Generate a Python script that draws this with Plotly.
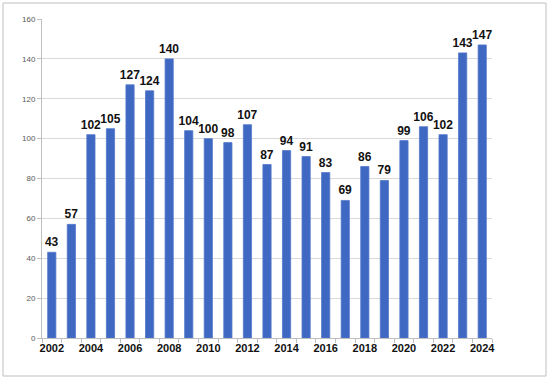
import plotly.graph_objects as go

years = [str(y) for y in range(2002, 2025)]
values = [43, 57, 102, 105, 127, 124, 140, 104, 100, 98, 107, 87, 94, 91, 83, 69, 86, 79, 99, 106, 102, 143, 147]
tick_text = [y if int(y) % 2 == 0 else "" for y in years]
y_ticks = [0, 20, 40, 60, 80, 100, 120, 140, 160]

L, R, T, B = 42, 58, 19, 44
W, H = 550, 382
pw, ph = W - L - R, H - T - B

fig = go.Figure()
fig.add_trace(go.Bar(
    x=years, y=values, width=0.42,
    marker=dict(color="#3F68C3", line=dict(color="#5479C9", width=0.8)),
    text=[str(v) for v in values], textposition="outside", cliponaxis=False,
    constraintext="none", textangle=0,
    textfont=dict(family="Liberation Sans", size=12, color="#111111", weight="bold"),
))

fig.update_layout(
    width=W, height=H, showlegend=False,
    margin=dict(l=L, r=R, t=T, b=B, autoexpand=False),
    paper_bgcolor="white", plot_bgcolor="white",
    xaxis=dict(type="category", tickvals=years, ticktext=tick_text, tickson="boundaries",
               ticks="outside", ticklen=4, tickcolor="#BFBFBF", tickangle=0, automargin=False,
               showline=True, linecolor="#BFBFBF", linewidth=1, showgrid=False,
               tickfont=dict(family="Liberation Sans", size=11, color="#111111", weight="bold")),
    yaxis=dict(range=[0, 160], tickvals=y_ticks, showgrid=True, gridcolor="#D9D9D9", gridwidth=1,
               ticks="outside", ticklen=4, tickcolor="#BFBFBF", automargin=False,
               showline=True, linecolor="#BFBFBF", linewidth=1, zeroline=False,
               tickfont=dict(family="Liberation Sans", size=8, color="#595959")),
    shapes=[dict(type="rect", xref="paper", yref="paper",
                 x0=(3 - L) / pw, x1=(546 - L) / pw,
                 y0=(H - B - 376) / ph, y1=1 + (T - 3) / ph,
                 line=dict(color="#BFBFBF", width=1), layer="below")],
)
fig.write_html("out.html", config={"displayModeBar": False},
               post_script="document.body.style.margin='0';")
